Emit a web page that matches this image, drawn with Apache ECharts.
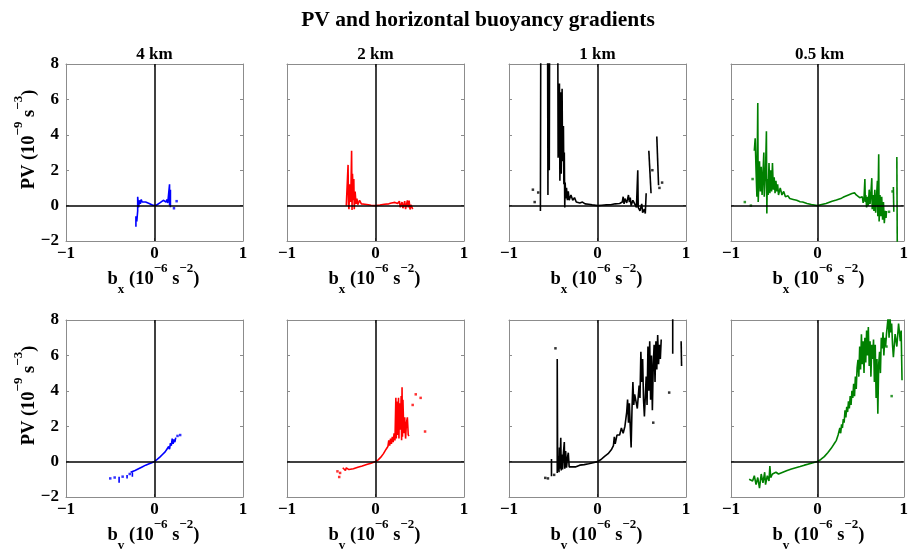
<!DOCTYPE html>
<html><head><meta charset="utf-8">
<script src="https://cdn.jsdelivr.net/npm/echarts@6/dist/echarts.min.js"></script>
<style>html,body{margin:0;padding:0;background:#fff}#c{width:911px;height:555px}</style>
</head><body><div id="c"></div>
<script>
// ---------- DATA ----------
const colTitles = ['4 km', '2 km', '1 km', '0.5 km'];
const xTicks = [-1, 0, 1];
const yTicks = [-2, 0, 2, 4, 6, 8];
const colors = ['#0000ff', '#ff0000', '#000000', '#008000'];

// Row 1: PV vs b_x
const bx4 = [[-0.21,-1.2],[-0.21,-0.6],[-0.2,-0.9],[-0.19,-0.3],[-0.19,0.5],[-0.18,-0.1],[-0.17,0.3],[-0.16,0.1],[-0.15,0.35],[-0.14,0.2],[-0.13,0.3],[-0.12,0.15],[-0.1,0.2],[-0.08,0.1],[-0.06,0.12],[-0.04,0.03],[-0.02,0.02],[0,0],[0.02,0.02],[0.04,0.05],[0.06,0.15],[0.08,0.25],[0.1,0.3],[0.12,0.4],[0.13,0.2],[0.14,0.35],[0.15,0.15],[0.16,0.1],[0.17,1.2],[0.17,0.0],[0.18,0.9],[0.18,-0.1]];
const bx4Dots = [[0.25,0.25],[0.22,-0.15]];

const bx2 = [[-0.33,0.0],[-0.32,-0.1],[-0.31,2.3],[-0.305,0.1],[-0.3,-0.2],[-0.29,1.2],[-0.28,0.2],[-0.27,3.1],[-0.265,-0.25],[-0.26,1.8],[-0.25,0.3],[-0.245,1.5],[-0.24,-0.2],[-0.23,0.8],[-0.22,0.1],[-0.21,0.4],[-0.2,0.05],[-0.18,0.3],[-0.16,0.1],[-0.14,0.2],[-0.12,0.08],[-0.1,0.12],[-0.08,0.05],[-0.05,0.02],[0,0],[0.05,0.03],[0.1,0.08],[0.15,0.1],[0.18,0.15],[0.2,0.08],[0.22,0.18],[0.25,0.12],[0.27,0.25],[0.28,-0.1],[0.3,0.2],[0.31,-0.15],[0.33,0.25],[0.34,-0.2],[0.36,0.3],[0.37,-0.1],[0.38,0.28],[0.39,-0.22],[0.4,0.05],[0.42,-0.2]];
const bx2Dots = [];

const bx1 = [[-0.645,-0.3],[-0.64,12],[-0.565,12],[-0.56,0.6],[-0.555,12],[-0.545,12],[-0.545,2.0],[-0.54,12],[-0.45,12],[-0.445,2.7],[-0.43,6.9],[-0.425,1.4],[-0.415,6.4],[-0.41,1.8],[-0.4,6.6],[-0.395,2.5],[-0.385,4.5],[-0.38,1.2],[-0.375,3.0],[-0.37,-0.1],[-0.365,1.3],[-0.36,0.4],[-0.35,1.0],[-0.34,0.3],[-0.33,0.8],[-0.32,0.3],[-0.3,0.6],[-0.28,0.3],[-0.26,0.45],[-0.24,0.2],[-0.22,0.3],[-0.2,0.15],[-0.17,0.2],[-0.14,0.1],[-0.1,0.08],[-0.06,0.04],[0,0],[0.05,0.02],[0.1,0.04],[0.15,0.05],[0.2,0.1],[0.25,0.12],[0.28,0.2],[0.29,0.5],[0.3,0.1],[0.31,0.4],[0.33,0.15],[0.35,0.6],[0.36,0.2],[0.37,0.45],[0.38,0.0],[0.4,0.3],[0.42,0.1],[0.44,-0.1],[0.455,2.0],[0.46,-0.1],[0.48,-0.3],[0.5,0.1],[0.51,-0.4],[0.53,-0.2],[0.54,-0.45],[0.55,0.7]];
const bx1Segs = [[[0.58,3.1],[0.605,0.7]], [[0.67,3.9],[0.69,1.15]]];
const bx1Dots = [[-0.73,0.9],[-0.67,0.74],[-0.71,0.2],[0.62,2.0],[0.73,1.3],[0.70,1.0]];

const bx05 = [[-0.73,3.1],[-0.72,3.8],[-0.71,2.0],[-0.7,0.5],[-0.69,5.8],[-0.685,0.2],[-0.67,2.5],[-0.66,0.8],[-0.65,2.2],[-0.64,0.6],[-0.63,1.8],[-0.62,3.0],[-0.615,0.5],[-0.6,2.0],[-0.59,4.2],[-0.585,-0.45],[-0.58,1.5],[-0.57,0.6],[-0.56,2.4],[-0.55,0.7],[-0.54,2.0],[-0.53,0.8],[-0.52,2.4],[-0.51,0.9],[-0.5,1.6],[-0.49,0.7],[-0.48,1.4],[-0.47,0.8],[-0.46,1.2],[-0.45,0.6],[-0.43,1.0],[-0.41,0.6],[-0.39,0.8],[-0.37,0.5],[-0.34,0.55],[-0.32,0.4],[-0.28,0.35],[-0.24,0.3],[-0.2,0.22],[-0.17,0.2],[-0.12,0.12],[-0.07,0.06],[0,0],[0.05,0.06],[0.1,0.12],[0.17,0.25],[0.22,0.32],[0.28,0.42],[0.31,0.5],[0.33,0.45],[0.36,0.6],[0.38,0.55],[0.4,0.68],[0.42,0.62],[0.43,0.72],[0.45,0.6],[0.47,0.55],[0.49,0.45],[0.51,0.35],[0.52,0.5],[0.53,0.15],[0.54,0.4],[0.55,1.5],[0.555,0.2],[0.56,0.6],[0.57,-0.1],[0.58,0.5],[0.59,0.0],[0.6,0.9],[0.61,0.1],[0.62,0.7],[0.63,1.55],[0.635,-0.2],[0.645,0.6],[0.655,-0.3],[0.665,0.9],[0.675,-0.4],[0.685,0.5],[0.695,1.4],[0.7,-0.6],[0.71,2.9],[0.715,-0.9],[0.725,0.6],[0.735,-0.6],[0.745,0.5],[0.755,-0.8],[0.765,0.2],[0.775,-1.0],[0.785,-0.3],[0.795,-0.7],[0.8,-0.3]];
const bx05Segs = [[[0.88,1.05],[0.885,-0.35]], [[0.92,2.75],[0.925,-2.3]]];
const bx05Dots = [[-0.84,0.2],[-0.77,0.0],[-0.75,1.5],[0.87,0.8],[0.83,-0.35]];

// Row 2: PV vs b_v
const by4 = [[-0.27,-0.6],[-0.22,-0.5],[-0.18,-0.4],[-0.14,-0.3],[-0.1,-0.2],[-0.06,-0.12],[-0.03,-0.06],[0,0],[0.03,0.12],[0.06,0.25],[0.09,0.4],[0.12,0.55],[0.14,0.7],[0.16,0.85],[0.17,0.7],[0.18,1.05],[0.19,0.9],[0.2,1.3],[0.21,1.0],[0.22,1.25],[0.23,1.1],[0.24,1.35]];
const by4Segs = [[[-0.4,-0.85],[-0.4,-1.2]], [[-0.31,-0.75],[-0.31,-0.95]], [[-0.25,-0.6],[-0.25,-0.85]]];
const by4Dots = [[-0.5,-0.95],[-0.45,-0.9],[-0.36,-0.85],[-0.28,-0.7],[0.29,1.5],[0.26,1.45]];

const by2 = [[-0.37,-0.35],[-0.36,-0.45],[-0.35,-0.25],[-0.34,-0.5],[-0.33,-0.35],[-0.3,-0.45],[-0.25,-0.4],[-0.2,-0.32],[-0.15,-0.25],[-0.1,-0.17],[-0.05,-0.09],[0,0],[0.03,0.1],[0.06,0.25],[0.09,0.45],[0.12,0.7],[0.14,0.85],[0.15,1.2],[0.16,0.9],[0.17,1.3],[0.18,1.0],[0.19,1.4],[0.2,1.1],[0.21,1.6],[0.22,1.2],[0.23,3.6],[0.235,1.3],[0.24,3.4],[0.25,1.5],[0.26,3.6],[0.265,1.3],[0.27,3.3],[0.28,1.8],[0.29,3.7],[0.295,1.2],[0.3,4.2],[0.305,1.4],[0.31,3.5],[0.32,1.6],[0.33,2.5],[0.34,1.3],[0.35,2.2],[0.36,2.5],[0.37,1.5],[0.38,1.45]];
const by2Dots = [[-0.43,-0.55],[-0.41,-0.87],[-0.4,-0.64],[0.455,3.8],[0.51,3.6],[0.42,3.2],[0.56,1.7]];

const by1 = [[-0.455,-0.65],[-0.455,5.8],[-0.45,-0.5],[-0.44,0.3],[-0.435,-0.6],[-0.43,0.8],[-0.425,-0.4],[-0.415,1.35],[-0.41,-0.5],[-0.4,0.4],[-0.395,-0.45],[-0.385,0.5],[-0.375,1.1],[-0.37,-0.4],[-0.36,0.6],[-0.35,-0.35],[-0.34,0.2],[-0.33,0.5],[-0.32,-0.3],[-0.3,-0.25],[-0.25,-0.3],[-0.2,-0.2],[-0.15,-0.17],[-0.1,-0.12],[-0.05,-0.06],[0,0],[0.04,0.12],[0.08,0.3],[0.12,0.45],[0.16,0.7],[0.18,0.9],[0.19,1.4],[0.2,1.0],[0.22,1.5],[0.25,1.5],[0.27,1.9],[0.29,1.6],[0.31,2.0],[0.33,2.8],[0.34,3.5],[0.35,2.2],[0.36,3.3],[0.37,2.0],[0.38,0.8],[0.39,3.0],[0.4,4.5],[0.41,3.2],[0.42,3.8],[0.44,3.9],[0.45,3.0],[0.47,4.3],[0.48,3.6],[0.49,6.2],[0.5,4.5],[0.51,5.8],[0.52,3.5],[0.53,2.55],[0.55,4.8],[0.56,3.2],[0.57,6.5],[0.58,4.0],[0.59,6.8],[0.6,3.5],[0.61,6.0],[0.62,2.9],[0.63,5.5],[0.64,6.6],[0.65,4.5],[0.66,6.8],[0.67,5.2],[0.68,7.15],[0.69,5.5],[0.7,6.6],[0.71,5.8],[0.72,6.9]];
const by1Segs = [[[0.85,8.2],[0.85,6.1]], [[0.945,6.8],[0.95,5.4]], [[-0.52,0.15],[-0.52,-0.83]]];
const by1Dots = [[-0.59,-0.92],[-0.56,-0.95],[-0.49,-0.75],[-0.475,6.4],[0.81,3.9],[0.63,2.2]];

const by05 = [[-0.79,-1.0],[-0.77,-0.9],[-0.75,-1.1],[-0.73,-0.8],[-0.71,-1.3],[-0.69,-0.9],[-0.67,-1.5],[-0.65,-0.7],[-0.63,-1.2],[-0.61,-0.6],[-0.6,-1.3],[-0.58,-0.8],[-0.56,-1.1],[-0.55,-0.25],[-0.54,-0.9],[-0.52,-0.7],[-0.5,-0.8],[-0.48,-0.6],[-0.45,-0.7],[-0.4,-0.6],[-0.35,-0.5],[-0.3,-0.42],[-0.25,-0.35],[-0.2,-0.28],[-0.15,-0.2],[-0.1,-0.13],[-0.05,-0.07],[0,0],[0.04,0.12],[0.08,0.28],[0.12,0.5],[0.16,0.75],[0.2,1.05],[0.22,1.2],[0.23,1.1],[0.24,1.5],[0.25,1.4],[0.26,1.9],[0.27,1.6],[0.28,2.1],[0.29,1.9],[0.3,2.4],[0.31,2.2],[0.32,2.9],[0.33,2.5],[0.34,3.1],[0.35,2.8],[0.36,3.4],[0.37,3.0],[0.38,3.7],[0.39,3.2],[0.4,4.0],[0.41,3.6],[0.42,4.4],[0.43,3.7],[0.44,4.8],[0.45,4.1],[0.46,5.3],[0.47,5.75],[0.48,4.8],[0.49,6.5],[0.5,5.2],[0.51,7.2],[0.52,5.5],[0.53,6.8],[0.54,5.0],[0.55,7.0],[0.56,5.6],[0.57,7.4],[0.58,6.0],[0.59,7.6],[0.6,5.4],[0.61,6.8],[0.62,4.8],[0.63,6.6],[0.64,5.8],[0.65,6.9],[0.66,4.5],[0.67,6.6],[0.68,3.6],[0.69,5.8],[0.7,2.7],[0.71,5.5],[0.72,6.2],[0.73,5.0],[0.74,7.0],[0.75,6.4],[0.76,7.3],[0.77,6.0],[0.78,7.0],[0.79,6.5],[0.8,7.2],[0.82,8.2],[0.83,7.0],[0.84,8.3],[0.85,7.3],[0.86,7.8],[0.87,6.6],[0.88,5.9],[0.9,7.2],[0.92,6.5],[0.94,7.8],[0.96,6.8],[0.97,7.4],[0.98,4.6]];
const by05Dots = [[0.86,3.7],[0.8,6.5]];

// ---------- BUILD ----------
const panels = [
  {path: bx4, segs: [], dots: bx4Dots},
  {path: bx2, segs: [], dots: bx2Dots},
  {path: bx1, segs: bx1Segs, dots: bx1Dots},
  {path: bx05, segs: bx05Segs, dots: bx05Dots},
  {path: by4, segs: by4Segs, dots: by4Dots},
  {path: by2, segs: [], dots: by2Dots},
  {path: by1, segs: by1Segs, dots: by1Dots},
  {path: by05, segs: [], dots: by05Dots}
];

const FONT = '"Liberation Serif", "DejaVu Serif", serif';
const lefts = [66, 287, 509, 731];
const tops = [64, 320];
const W = 177, H = 177;
const LW = 1.6;

const grid = [], xAxis = [], yAxis = [], series = [];
const fmtNum = v => (v < 0 ? '\u2212' + Math.abs(v) : String(v));
const labelStyle = {fontFamily: FONT, fontWeight: 'bold', fontSize: 17, color: '#000'};

for (let i = 0; i < 8; i++) {
  const r = Math.floor(i / 4), c = i % 4;
  grid.push({left: lefts[c], top: tops[r], width: W, height: H, show: false});
}
for (let k = 0; k < 16; k++) {
  const i = k % 8, c = i % 4, main = k < 8;
  xAxis.push({
    gridIndex: i, type: 'value', min: xTicks[0], max: xTicks[xTicks.length - 1], interval: 1,
    position: main ? 'bottom' : 'top',
    axisLine: {show: true, onZero: false, lineStyle: {color: '#8c8c8c', width: 1}},
    axisTick: {show: true, inside: true, length: 3, lineStyle: {color: '#8c8c8c'}},
    splitLine: {show: false},
    axisLabel: {show: main, margin: 4, formatter: fmtNum, showMinLabel: true, showMaxLabel: true, ...labelStyle}
  });
  yAxis.push({
    gridIndex: i, type: 'value', min: yTicks[0], max: yTicks[yTicks.length - 1], interval: 2,
    position: main ? 'left' : 'right',
    axisLine: {show: true, onZero: false, lineStyle: {color: '#8c8c8c', width: 1}},
    axisTick: {show: true, inside: true, length: 3, lineStyle: {color: '#8c8c8c'}},
    splitLine: {show: false},
    axisLabel: {show: main && c === 0, margin: 7, formatter: fmtNum, showMinLabel: true, showMaxLabel: true, ...labelStyle}
  });
}

panels.forEach((p, i) => {
  const col = colors[i % 4];
  series.push({
    type: 'line', xAxisIndex: i, yAxisIndex: i, data: p.path,
    showSymbol: false, symbol: 'none', clip: true, silent: true, animation: false,
    lineStyle: {color: col, width: LW}, z: 3,
    markLine: {
      silent: true, symbol: ['none', 'none'], animation: false,
      label: {show: false},
      lineStyle: {color: '#000', width: 1.5, type: 'solid'},
      data: [{xAxis: 0}, {yAxis: 0}], z: 5
    }
  });
  p.segs.forEach(s => series.push({
    type: 'line', xAxisIndex: i, yAxisIndex: i, data: s,
    showSymbol: false, symbol: 'none', clip: true, silent: true, animation: false,
    lineStyle: {color: col, width: LW}, z: 3
  }));
  if (p.dots.length) series.push({
    type: 'scatter', xAxisIndex: i, yAxisIndex: i, data: p.dots,
    symbol: 'rect', symbolSize: 2.5, itemStyle: {color: col}, silent: true, animation: false, z: 3
  });
});

// texts
const rich = {
  n: {fontFamily: FONT, fontWeight: 'bold', fontSize: 18.5, lineHeight: 34, verticalAlign: 'middle', fill: '#000'},
  sup: {fontFamily: FONT, fontWeight: 'bold', fontSize: 13, lineHeight: 13, verticalAlign: 'top', fill: '#000'},
  sub: {fontFamily: FONT, fontWeight: 'bold', fontSize: 13, lineHeight: 13, verticalAlign: 'bottom', fill: '#000'}
};
const graphic = [];
graphic.push({type: 'text', x: 478, y: 20, style: {text: 'PV and horizontal buoyancy gradients', font: 'bold 21.5px ' + FONT, fill: '#000', textAlign: 'center', textVerticalAlign: 'middle'}});
colTitles.forEach((t, c) => graphic.push({type: 'text', x: lefts[c] + W / 2, y: 55, style: {text: t, font: 'bold 17px ' + FONT, fill: '#000', textAlign: 'center', textVerticalAlign: 'middle'}}));
const xNames = ['x', 'v'];
for (let r = 0; r < 2; r++) {
  for (let c = 0; c < 4; c++) {
    graphic.push({type: 'text', x: lefts[c] + W / 2 - 1, y: tops[r] + H + 38, style: {
      text: '{n|b}{sub|' + xNames[r] + '}{n| (10}{sup|\u22126}{n| s}{sup|\u22122}{n|)}',
      rich: rich, textAlign: 'center', textVerticalAlign: 'middle'}});
  }
  graphic.push({type: 'text', x: 29, y: tops[r] + H / 2 - 13, rotation: Math.PI / 2, style: {
    text: '{n|PV (10}{sup|\u22129}{n| s}{sup|\u22123}{n|)}',
    rich: rich, textAlign: 'center', textVerticalAlign: 'middle'}});
}

const chart = echarts.init(document.getElementById('c'), null, {renderer: 'canvas'});
chart.setOption({animation: false, backgroundColor: '#fff', grid, xAxis, yAxis, series, graphic});
</script></body></html>
